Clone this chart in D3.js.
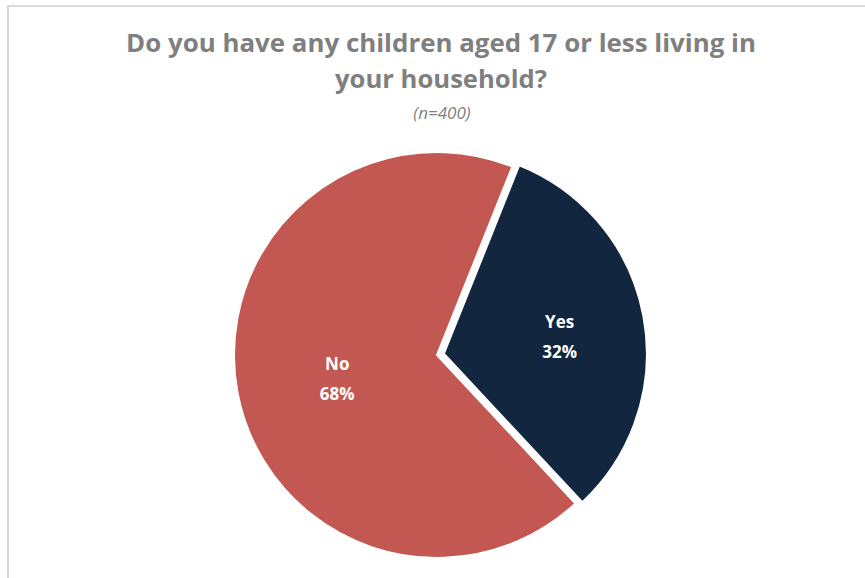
<!DOCTYPE html>
<html><head><meta charset="utf-8">
<script src="https://cdn.jsdelivr.net/npm/d3@7"></script>
<style>body{margin:0;background:#fff;} svg{display:block;}</style>
</head><body>
<svg id="chart" width="865" height="578"></svg>
<script>
const categories = ["No", "Yes"];
const values = [68, 32];
const colors = ["#C35853", "#12263F"];
const titleLines = ["Do you have any children aged 17 or less living in", "your household?"];
const subtitle = "(n=400)";

const svg = d3.select("#chart");
// chart frame
svg.append("path").attr("d", "M8,600 V6 H900").attr("fill", "none").attr("stroke", "#d9d9d9").attr("stroke-width", 2);

const titleWidths = [630, 212];
titleLines.forEach((line, i) => {
  svg.append("text").attr("x", 441).attr("y", 52 + i * 36).attr("text-anchor", "middle")
    .attr("font-family", "Open Sans, sans-serif").attr("font-weight", 700).attr("font-size", 25)
    .attr("textLength", titleWidths[i]).attr("lengthAdjust", "spacingAndGlyphs")
    .attr("fill", "#7f7f7f").text(line);
});
svg.append("text").attr("x", 442).attr("y", 119).attr("text-anchor", "middle")
  .attr("font-family", "Open Sans, sans-serif").attr("font-style", "italic")
  .attr("font-size", 17).attr("fill", "#7f7f7f").text(subtitle);

const cx = 437, cy = 355, r = 203;
const startRot = 21.8 * Math.PI / 180;
// order so that Yes starts at startRot clockwise
const data = categories.map((c, i) => ({c, v: values[i], i}));
const ordered = [data[1], data[0]];
const arcs = d3.pie().sort(null).value(d => d.v).startAngle(startRot).endAngle(startRot + 2 * Math.PI)(ordered);
const arc = d3.arc().innerRadius(0).outerRadius(r);
const g = svg.append("g").attr("transform", `translate(${cx},${cy})`);
const explode = {Yes: 7, No: 0};
arcs.forEach(a => {
  const mid = (a.startAngle + a.endAngle) / 2;
  const d = explode[a.data.c];
  const ox = d * Math.sin(mid), oy = -d * Math.cos(mid);
  const sg = g.append("g").attr("transform", `translate(${ox},${oy})`);
  sg.append("path").attr("d", arc(a)).attr("fill", colors[a.data.i])
    .attr("stroke", "#fff").attr("stroke-width", 2).attr("stroke-linejoin", "round");
  const labelR = a.data.c === "Yes" ? 0.58 : 0.5;
  const [lx, ly] = d3.arc().innerRadius(r * labelR * 2).outerRadius(0).centroid(a);
  const lab = sg.append("text").attr("text-anchor", "middle")
    .attr("font-family", "Open Sans, sans-serif").attr("font-weight", 700).attr("font-size", 17)
    .attr("fill", "#fff");
  lab.append("tspan").attr("x", lx).attr("y", ly - 4).text(a.data.c);
  lab.append("tspan").attr("x", lx).attr("y", ly + 26).text(a.data.v + "%");
});
</script>
</body></html>
